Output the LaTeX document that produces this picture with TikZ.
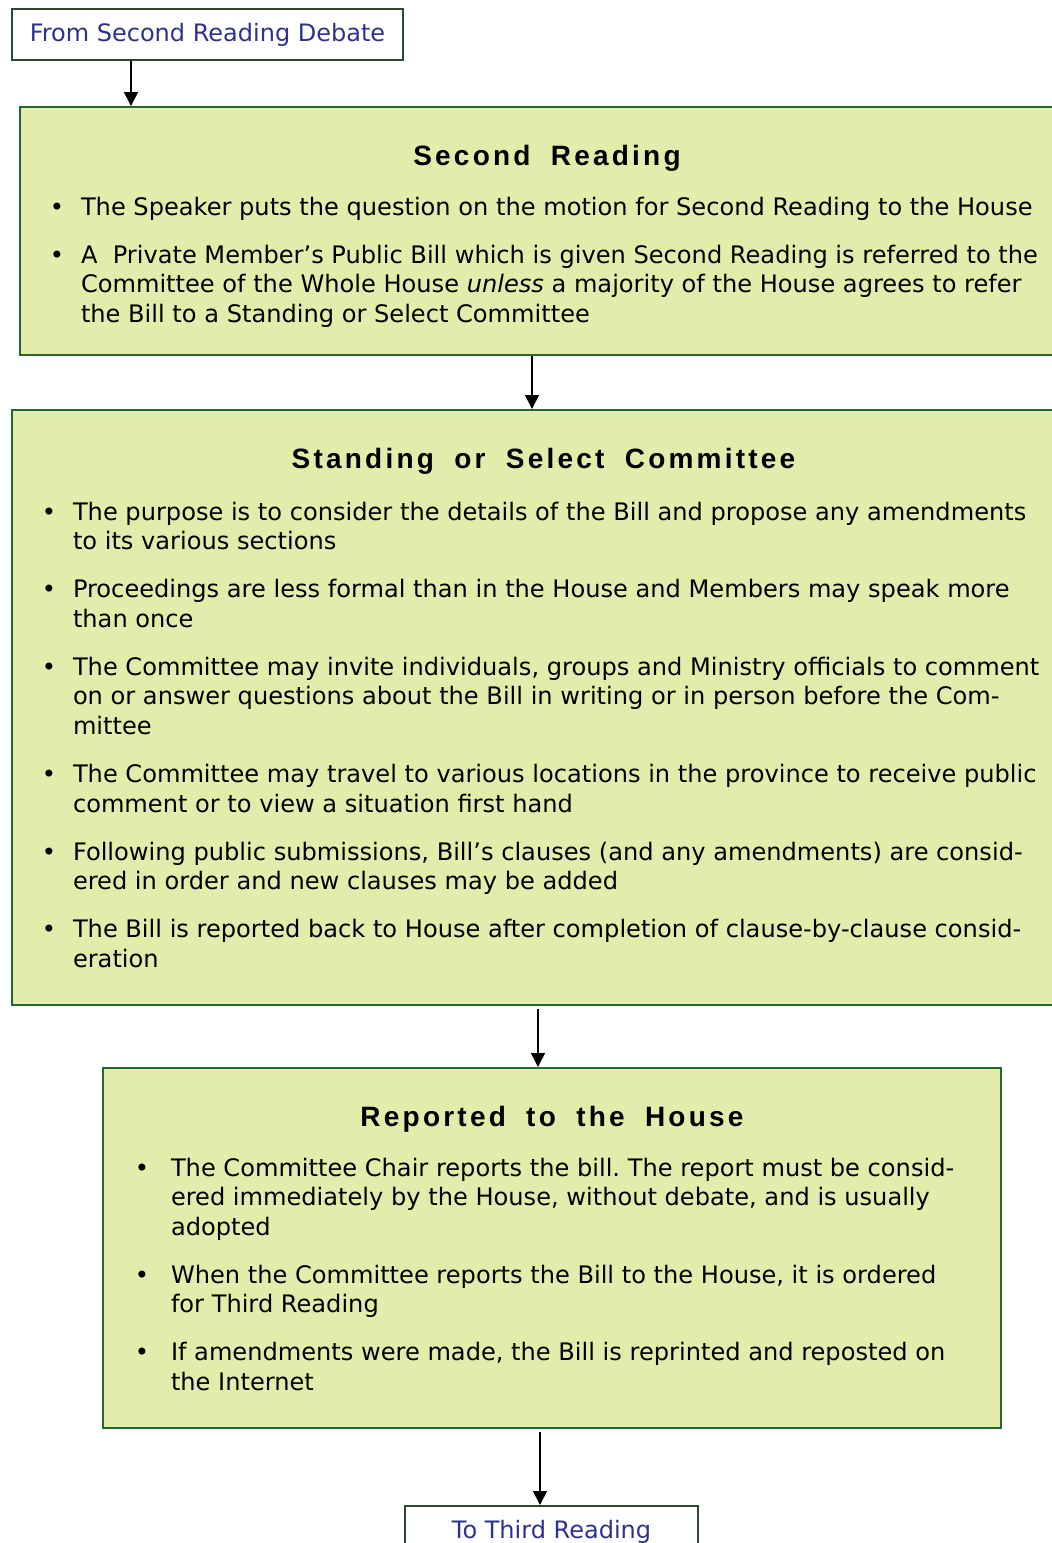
\documentclass[tikz,border=0pt]{standalone}
\usepackage{fontspec}
\setmainfont{DejaVu Sans}
\newfontfamily\headfont[LetterSpace=11.5,WordSpace=1.85]{Liberation Sans}
\usetikzlibrary{arrows.meta}
\usepackage{xcolor}

\definecolor{stagefill}{RGB}{228,236,171}
\definecolor{stagegreen}{RGB}{32,106,48}
\definecolor{linkgreen}{RGB}{44,72,48}
\definecolor{linkblue}{RGB}{46,50,140}

\newcommand{\stagehead}[1]{{\centering\headfont\bfseries\fontsize{14}{16}\selectfont\rule{0pt}{29pt}#1\par}}
\newenvironment{stagelist}[2]{\begin{list}{\textbullet}{%
    \setlength{\leftmargin}{#1}\setlength{\labelsep}{#2}%
    \setlength{\labelwidth}{\leftmargin}\addtolength{\labelwidth}{-\labelsep}%
    \setlength{\topsep}{10.25pt}\setlength{\partopsep}{0pt}%
    \setlength{\parsep}{0pt}\setlength{\itemsep}{9.2pt}%
    \setlength{\rightmargin}{0pt}}\raggedright\frenchspacing}{\end{list}}

\tikzset{
  stage/.style={draw=stagegreen, fill=stagefill, line width=1pt, anchor=north west, inner sep=0pt},
  link/.style={draw=linkgreen, fill=white, line width=1pt, anchor=north west, inner sep=0pt,
    text=linkblue, minimum height=25.5pt, font=\fontsize{12}{14.8}\selectfont},
  flow/.style={-{Triangle[width=7pt,length=7pt]}, line width=0.8pt}
}

\begin{document}
\begin{tikzpicture}[x=0.5pt, y=-0.5pt]
        \useasboundingbox (0,0) rectangle (1052,1543);
        \clip (0,0) rectangle (1052,1543);
        % boxes
        \node[link, minimum width=195.5pt] (from) at (11,8) {From Second Reading Debate};
        \node[stage] (second) at (19,106) {\parbox[t][124pt][t]{527pt}{\fontsize{12.05}{14.8}\selectfont
            \stagehead{Second Reading}
            \begin{stagelist}{30.5pt}{8.5pt}
            \item The Speaker puts the question on the motion for Second Reading to the House
            \item A\ \ Private Member’s Public Bill which is given Second Reading is referred to the\\
            Committee of the Whole House \emph{unless} a majority of the House agrees to refer\\
            the Bill to a Standing or Select Committee
            \end{stagelist}}};
        \node[stage] (committee) at (11,409) {\parbox[t][297.5pt][t]{531.5pt}{\fontsize{12.05}{14.8}\selectfont
            \stagehead{Standing or Select Committee}
            \vspace{1pt}
            \begin{stagelist}{30.5pt}{8.5pt}
            \item The purpose is to consider the details of the Bill and propose any amendments\\
            to its various sections
            \item Proceedings are less formal than in the House and Members may speak more\\
            than once
            \item The Committee may invite individuals, groups and Ministry officials to comment\\
            on or answer questions about the Bill in writing or in person before the Com-\\
            mittee
            \item The Committee may travel to various locations in the province to receive public\\
            comment or to view a situation first hand
            \item Following public submissions, Bill’s clauses (and any amendments) are consid-\\
            ered in order and new clauses may be added
            \item The Bill is reported back to House after completion of clause-by-clause consid-\\
            eration
            \end{stagelist}}};
        \node[stage] (reported) at (102,1067) {\parbox[t][180pt][t]{449pt}{\fontsize{12.05}{14.8}\selectfont
            \stagehead{Reported to the House}
            \begin{stagelist}{34pt}{11pt}
            \item The Committee Chair reports the bill. The report must be consid-\\
            ered immediately by the House, without debate, and is usually\\
            adopted
            \item When the Committee reports the Bill to the House, it is ordered\\
            for Third Reading
            \item If amendments were made, the Bill is reprinted and reposted on\\
            the Internet
            \end{stagelist}}};
        \node[link, minimum width=146.5pt] (third) at (404,1505) {To Third Reading};
        % arrows
        \draw[flow] (from.south -| 131,0) -- (second.north -| 131,0);
        \draw[flow] (second.south -| 532,0) -- (committee.north -| 532,0);
        \draw[flow, shorten <=1.5pt] (committee.south -| 538,0) -- (reported.north -| 538,0);
        \draw[flow, shorten <=1.5pt] (reported.south -| 540,0) -- (third.north -| 540,0);
    \end{tikzpicture}
\end{document}
